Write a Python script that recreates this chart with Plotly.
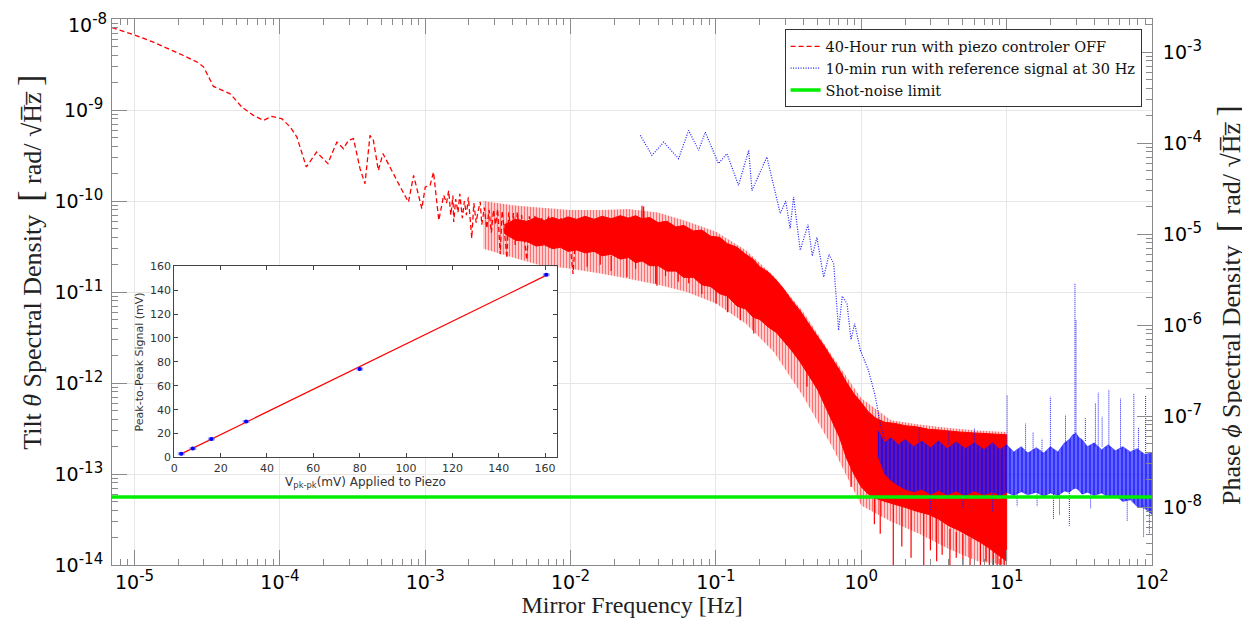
import math
import plotly.graph_objects as go

# ---------------- data ----------------
# 40-hour run (piezo controller OFF): low-frequency trace, Hz vs rad/sqrt(Hz)
red_f = [7.0e-6, 9.8e-6, 1.35e-5, 1.85e-5, 2.17e-5, 2.75e-5, 2.99e-5, 3.49e-5, 4.55e-5, 5.47e-5,
         6.58e-5, 7.71e-5, 8.81e-5, 1.03e-4, 1.18e-4, 1.31e-4, 1.52e-4, 1.79e-4, 2.14e-4, 2.28e-4,
         2.47e-4, 2.74e-4, 2.96e-4, 3.21e-4, 3.56e-4, 3.85e-4, 4.17e-4, 4.40e-4, 4.76e-4, 5.12e-4,
         5.58e-4, 6.04e-4, 6.73e-4, 7.67e-4, 8.32e-4, 9.0e-4, 9.48e-4, 1.0e-3, 1.08e-3, 1.14e-3,
         1.24e-3, 1.34e-3, 1.40e-3, 1.45e-3, 1.50e-3, 1.55e-3, 1.57e-3, 1.62e-3, 1.68e-3, 1.73e-3,
         1.80e-3, 1.86e-3, 1.92e-3, 1.98e-3, 2.05e-3, 2.09e-3, 2.16e-3, 2.24e-3, 2.30e-3, 2.39e-3,
         2.45e-3, 2.55e-3, 2.65e-3, 2.75e-3, 2.85e-3, 2.95e-3, 3.05e-3, 3.15e-3, 3.28e-3, 3.38e-3,
         3.50e-3, 3.65e-3, 3.75e-3, 3.90e-3, 4.05e-3, 4.16e-3, 4.30e-3, 4.45e-3, 4.60e-3, 4.75e-3,
         5.00e-3, 5.20e-3, 5.45e-3, 5.70e-3, 6.00e-3, 6.30e-3, 6.60e-3, 7.03e-3, 7.40e-3, 7.80e-3,
         8.20e-3, 8.60e-3, 9.0e-3, 9.5e-3, 1.04e-2, 1.1e-2]
red_y = [8.05e-9, 6.75e-9, 5.58e-9, 4.52e-9, 3.98e-9, 3.32e-9, 2.97e-9, 1.82e-9, 1.51e-9, 1.08e-9,
         8.75e-10, 7.71e-10, 8.53e-10, 8.04e-10, 6.5e-10, 5.05e-10, 2.37e-10, 3.45e-10, 2.58e-10, 3.32e-10,
         4.45e-10, 3.77e-10, 4.65e-10, 4.85e-10, 2.27e-10, 1.55e-10, 5.27e-10, 4.65e-10, 2.17e-10, 3.32e-10,
         2.58e-10, 2.0e-10, 1.43e-10, 9.75e-11, 1.91e-10, 1.11e-10, 8.24e-11, 1.43e-10, 1.49e-10, 2.08e-10,
         6.14e-11, 1.16e-10, 9.5e-11, 1.3e-10, 7.0e-11, 1.15e-10, 5.9e-11, 1.05e-10, 7.5e-11, 1.2e-10,
         6.5e-11, 1.0e-10, 7.0e-11, 1.1e-10, 6.0e-11, 3.9e-11, 9.5e-11, 5.8e-11, 7.5e-11, 9.8e-11,
         5.5e-11, 8.5e-11, 5.0e-11, 8.0e-11, 4.5e-11, 8.0e-11, 5.5e-11, 8.2e-11, 2.6e-11, 7.8e-11,
         4.8e-11, 2.35e-11, 7.5e-11, 4.5e-11, 7.4e-11, 3.3e-11, 7.6e-11, 4.2e-11, 7.0e-11, 4.6e-11,
         2.25e-11, 6.8e-11, 4.0e-11, 7.0e-11, 3.8e-11, 6.5e-11, 3.5e-11, 6.9e-11, 3.8e-11, 6.5e-11,
         3.6e-11, 6.5e-11, 3.5e-11, 6.4e-11, 1.58e-11, 6.0e-11]

# 40-hour run: dense part, solid core of the red band (upper / lower edge)
red_band_f = [3.5e-3, 4.2e-3, 5e-3, 5.8e-3, 6.6e-3, 7.5e-3, 8.5e-3, 9.6e-3, 1.1e-2, 1.26e-2,
              1.45e-2, 1.65e-2, 1.9e-2, 2.2e-2, 2.5e-2, 2.8e-2, 3.1e-2, 3.5e-2, 4.0e-2, 4.6e-2,
              5.3e-2, 6.0e-2, 7.0e-2, 8.0e-2, 9.2e-2, 0.106, 0.12, 0.14, 0.16, 0.18,
              0.2, 0.23, 0.26, 0.29, 0.33, 0.38, 0.43, 0.5, 0.56, 0.63,
              0.71, 0.79, 0.89, 1.0, 1.12, 1.26, 1.45, 1.7, 2.0, 2.4,
              2.9, 3.4, 4.0, 4.7, 5.5, 6.5, 7.5, 8.7, 10.0]
red_band_hi = [5.5e-11, 6.3e-11, 6.0e-11, 6.6e-11, 6.1e-11, 6.6e-11, 6.2e-11, 6.7e-11, 6.3e-11, 6.8e-11,
               6.3e-11, 6.8e-11, 6.4e-11, 6.9e-11, 6.5e-11, 6.9e-11, 6.4e-11, 6.6e-11, 5.8e-11, 6.0e-11,
               5.2e-11, 5.4e-11, 4.7e-11, 4.8e-11, 4.1e-11, 4.0e-11, 3.4e-11, 3.1e-11, 2.6e-11, 2.3e-11,
               1.9e-11, 1.65e-11, 1.35e-11, 1.1e-11, 8.2e-12, 6.2e-12, 4.6e-12, 3.3e-12, 2.5e-12, 1.85e-12,
               1.38e-12, 1.02e-12, 7.6e-13, 6.1e-13, 4.8e-13, 4.1e-13, 3.7e-13, 3.6e-13, 3.4e-13, 3.3e-13,
               3.1e-13, 3.05e-13, 2.95e-13, 2.9e-13, 2.85e-13, 2.8e-13, 2.75e-13, 2.75e-13, 2.7e-13]
red_band_lo = [4.4e-11, 3.7e-11, 3.6e-11, 3.2e-11, 3.3e-11, 3.0e-11, 3.1e-11, 2.8e-11, 2.9e-11, 2.7e-11,
               2.8e-11, 2.5e-11, 2.6e-11, 2.3e-11, 2.4e-11, 2.1e-11, 2.2e-11, 1.95e-11, 1.95e-11, 1.7e-11,
               1.7e-11, 1.45e-11, 1.45e-11, 1.2e-11, 1.15e-11, 9.6e-12, 9.0e-12, 7.0e-12, 6.5e-12, 5.3e-12,
               5.0e-12, 4.1e-12, 3.6e-12, 2.9e-12, 2.3e-12, 1.7e-12, 1.25e-12, 8.5e-13, 5.8e-13, 3.8e-13,
               2.5e-13, 1.5e-13, 1.0e-13, 7.2e-14, 6.0e-14, 5.4e-14, 5.0e-14, 4.6e-14, 4.3e-14, 3.9e-14,
               3.6e-14, 3.2e-14, 2.7e-14, 2.4e-14, 2.1e-14, 1.8e-14, 1.55e-14, 1.3e-14, 1.1e-14]

# 40-hour run: sparse outer fringe of the band (reach of the scattered dashes)
red_fringe_f = [2.5e-3, 4e-3, 6e-3, 1e-2, 1.6e-2, 2.5e-2, 4e-2, 6.3e-2, 0.1, 0.16,
                0.25, 0.4, 0.63, 1.0, 1.6, 2.5, 4.0, 6.3, 10.0]
red_fringe_hi = [1.0e-10, 9.0e-11, 8.5e-11, 8.0e-11, 8.0e-11, 8.2e-11, 7.5e-11, 6.0e-11, 4.6e-11, 2.9e-11,
                 1.5e-11, 6.0e-12, 2.0e-12, 6.8e-13, 3.9e-13, 3.5e-13, 3.2e-13, 3.0e-13, 2.9e-13]
red_fringe_lo = [3.0e-11, 2.4e-11, 2.0e-11, 1.8e-11, 1.6e-11, 1.4e-11, 1.2e-11, 1.0e-11, 7.5e-12, 4.5e-12,
                 2.2e-12, 7.0e-13, 2.0e-13, 4.5e-14, 3.0e-14, 2.2e-14, 1.5e-14, 1.1e-14, 1.0e-14]

# 40-hour run: isolated spikes sticking out of the band (frequency, from, to)
red_spk_f = [1.3e-2, 1.6e-2, 1.9e-2, 2.44e-2, 2.8e-2, 3.1e-2, 3.18e-2, 3.85e-2, 3.93e-2, 4.5e-2,
             5.5e-2, 6.5e-2, 8.0e-2, 0.1, 0.12, 0.147, 0.182, 0.423, 0.85, 1.23,
             1.35, 1.66, 1.9, 2.2, 2.69, 2.99, 3.3, 3.6, 4.07, 4.5,
             5.0, 5.6, 6.6, 7.2, 7.6, 8.1, 8.6, 9.1, 9.6]
red_spk_from = [2.8e-11, 2.6e-11, 2.5e-11, 2.4e-11, 2.2e-11, 6.3e-11, 6.3e-11, 2.1e-11, 2.1e-11, 1.9e-11,
                1.7e-11, 1.5e-11, 1.2e-11, 1.1e-11, 1.0e-11, 7.0e-12, 5.5e-12, 1.4e-12, 1.2e-13, 5.5e-14,
                5.2e-14, 4.7e-14, 4.5e-14, 4.2e-14, 3.7e-14, 3.6e-14, 3.3e-14, 3.0e-14, 2.5e-14, 2.3e-14,
                2.2e-14, 2.0e-14, 1.8e-14, 1.7e-14, 1.6e-14, 1.5e-14, 1.4e-14, 1.3e-14, 1.2e-14]
red_spk_to = [1.9e-11, 2.0e-11, 1.7e-11, 1.46e-11, 1.8e-11, 8.9e-11, 8.7e-11, 1.23e-11, 1.17e-11, 1.5e-11,
              1.3e-11, 1.25e-11, 9.5e-12, 7.5e-12, 6.0e-12, 4.9e-12, 3.5e-12, 9.1e-13, 7.2e-14, 2.8e-14,
              2.2e-14, 1.0e-14, 1.6e-14, 1.2e-14, 1.0e-14, 1.45e-14, 1.1e-14, 1.3e-14, 1.0e-14, 1.2e-14,
              1.0e-14, 1.0e-14, 1.0e-14, 1.1e-14, 1.0e-14, 1.0e-14, 1.0e-14, 1.0e-14, 1.0e-14]

# 10-min run with reference signal at 30 Hz
blue_f = [3.02e-2, 3.63e-2, 4.37e-2, 5.53e-2, 6.49e-2, 7.6e-2, 8.45e-2, 0.104, 0.119, 0.143,
          0.168, 0.177, 0.224, 0.277, 0.302, 0.324, 0.342, 0.38, 0.43, 0.46,
          0.495, 0.551, 0.60, 0.646, 0.698, 0.74, 0.798, 0.85, 0.90, 0.986,
          1.12, 1.25, 1.35, 1.5]
blue_y = [5.27e-10, 3.18e-10, 4.45e-10, 2.92e-10, 5.98e-10, 3.61e-10, 5.73e-10, 2.58e-10, 3.32e-10, 1.49e-10,
          3.61e-10, 1.31e-10, 3.05e-10, 7.28e-11, 1.0e-10, 5.0e-11, 1.11e-10, 2.88e-11, 5.5e-11, 2.5e-11,
          3.98e-11, 1.46e-11, 2.6e-11, 2.04e-11, 3.8e-12, 9.0e-12, 7.41e-12, 3.0e-12, 4.5e-12, 2.29e-12,
          1.38e-12, 7.08e-13, 3.55e-13, 2.0e-13]

blue_band_f = [1.3, 1.45, 1.6, 1.8, 2.0, 2.3, 2.6, 3.0, 3.4, 3.9,
               4.5, 5.2, 6.0, 7.0, 8.0, 9.0, 10.0, 11.2, 12.6, 14.0,
               16.0, 18.0, 20.0, 22.5, 25.0, 27.0, 28.5, 30.0, 31.5, 33.0,
               36.0, 40.0, 45.0, 50.0, 56.0, 63.0, 71.0, 79.0, 89.0, 100.0]
blue_band_hi = [3.0e-13, 2.2e-13, 2.5e-13, 2.1e-13, 2.4e-13, 2.0e-13, 2.3e-13, 1.95e-13, 2.3e-13, 1.9e-13,
                2.25e-13, 1.9e-13, 2.2e-13, 1.85e-13, 2.2e-13, 1.85e-13, 2.1e-13, 1.75e-13, 2.0e-13, 1.7e-13,
                1.95e-13, 1.7e-13, 2.0e-13, 1.75e-13, 2.2e-13, 2.4e-13, 2.7e-13, 2.8e-13, 2.5e-13, 2.4e-13,
                2.0e-13, 2.2e-13, 1.85e-13, 2.1e-13, 1.8e-13, 2.0e-13, 1.75e-13, 1.9e-13, 1.65e-13, 1.7e-13]
blue_band_lo = [1.6e-13, 1.0e-13, 8.5e-14, 7.5e-14, 6.8e-14, 6.4e-14, 6.8e-14, 6.0e-14, 6.6e-14, 5.9e-14,
                6.5e-14, 5.8e-14, 6.5e-14, 5.9e-14, 6.4e-14, 5.8e-14, 6.3e-14, 5.8e-14, 6.4e-14, 5.9e-14,
                6.3e-14, 5.7e-14, 6.2e-14, 5.8e-14, 6.5e-14, 6.3e-14, 6.8e-14, 7.0e-14, 6.6e-14, 6.0e-14,
                6.3e-14, 5.8e-14, 6.2e-14, 5.6e-14, 5.8e-14, 5.0e-14, 5.2e-14, 4.4e-14, 4.2e-14, 3.6e-14]

blue_spk_f = [2.5, 4.0, 6.0, 10.07, 13.5, 15.2, 17.5, 20.0, 25.4, 29.5,
              30.0, 34.8, 40.8, 42.7, 45.4, 50.5, 60.7, 75.0, 80.7, 90.4,
              3.0, 5.0, 8.0, 11.8, 16.2, 21.0, 23.1, 27.0, 37.8, 67.5,
              87.5, 96.0]
blue_spk_from = [2.2e-13, 2.1e-13, 2.05e-13, 2.0e-13, 1.85e-13, 1.85e-13, 1.8e-13, 1.8e-13, 2.1e-13, 2.7e-13,
                 2.8e-13, 2.3e-13, 2.0e-13, 2.0e-13, 2.0e-13, 1.95e-13, 1.9e-13, 1.8e-13, 1.8e-13, 1.7e-13,
                 6.5e-14, 6.2e-14, 6.3e-14, 6.3e-14, 6.3e-14, 6.0e-14, 6.1e-14, 6.5e-14, 6.1e-14, 5.5e-14,
                 4.5e-14, 4.2e-14]
blue_spk_to = [3.3e-13, 3.0e-13, 3.2e-13, 7.4e-13, 3.6e-13, 2.9e-13, 2.45e-13, 7.1e-13, 4.5e-13, 1.26e-11,
               5.0e-12, 4.1e-13, 6.0e-13, 7.9e-13, 4.3e-13, 8.5e-13, 6.8e-13, 7.6e-13, 3.3e-13, 7.4e-13,
               4.0e-14, 4.2e-14, 3.9e-14, 4.4e-14, 4.4e-14, 3.2e-14, 3.5e-14, 2.7e-14, 4.2e-14, 3.0e-14,
               2.0e-14, 2.2e-14]

# shot-noise limit
shot_f = [7.0e-6, 100.0]
shot_y = [5.6e-14, 5.6e-14]

# phase axis (right) versus tilt axis (left): log10 offset
PHASE_OFFSET_DECADES = 5.363

# inset: calibration
inset_x = [3, 8, 16, 31, 80, 160.5]
inset_y = [3, 7.5, 15.5, 30, 74, 153]
inset_xerr = [1.5, 1.5, 1.5, 1.5, 1.5, 1.5]
inset_yerr = [0.8, 0.8, 0.8, 0.8, 0.8, 0.8]
fit_x = [3, 160]
fit_y = [3.0, 152.0]

# axes
x_ticks = [1e-5, 1e-4, 1e-3, 1e-2, 1e-1, 1e0, 1e1, 1e2]
x_tick_exp = [-5, -4, -3, -2, -1, 0, 1, 2]
yl_ticks = [1e-14, 1e-13, 1e-12, 1e-11, 1e-10, 1e-9, 1e-8]
yl_tick_exp = [-14, -13, -12, -11, -10, -9, -8]
yr_ticks = [1e-8, 1e-7, 1e-6, 1e-5, 1e-4, 1e-3]
yr_tick_exp = [-8, -7, -6, -5, -4, -3]
inset_ticks = [0, 20, 40, 60, 80, 100, 120, 140, 160]

# ---------------- helpers ----------------
def minor_vals(lo_exp, hi_exp):
    out = []
    for e in range(lo_exp, hi_exp + 1):
        for m in range(2, 10):
            out.append(m * 10.0 ** e)
    return out

def segments(fs, a, b):
    xs, ys = [], []
    for f, y0, y1 in zip(fs, a, b):
        xs += [f, f, None]
        ys += [y0, y1, None]
    return xs, ys

def pow_label(e):
    return "10<sup><span style='font-size:15px'>%d</span></sup>" % e

AX = "#8a8a8a"
SERIF = "Liberation Serif"
SANS = "DejaVu Sans"
RED = "#ff0000"
BLUE = "#1a1aff"

fig = go.Figure()

# red fringe (scattered dashes) + dense core
fig.add_trace(go.Scatter(x=red_fringe_f + red_fringe_f[::-1], y=red_fringe_hi + red_fringe_lo[::-1],
                         fill="toself", mode="lines", line=dict(width=0),
                         fillpattern=dict(shape="|", fgcolor=RED, bgcolor="rgba(255,0,0,0.12)",
                                          size=3, solidity=0.45),
                         showlegend=False, hoverinfo="skip"))
fig.add_trace(go.Scatter(x=red_band_f + red_band_f[::-1], y=red_band_hi + red_band_lo[::-1],
                         fill="toself", fillcolor=RED, mode="lines", line=dict(color=RED, width=1),
                         showlegend=False, hoverinfo="skip"))
sx, sy = segments(red_spk_f, red_spk_from, red_spk_to)
fig.add_trace(go.Scatter(x=sx, y=sy, mode="lines", line=dict(color=RED, width=1.2),
                         showlegend=False, hoverinfo="skip"))
fig.add_trace(go.Scatter(x=red_f, y=red_y, mode="lines", name="40-Hour run with piezo controler OFF",
                         line=dict(color=RED, width=1.3, dash="5px,3px")))

# blue
fig.add_trace(go.Scatter(x=blue_band_f + blue_band_f[::-1], y=blue_band_hi + blue_band_lo[::-1],
                         fill="toself", mode="lines",
                         fillpattern=dict(shape="|", fgcolor="rgb(0,0,255)",
                                          bgcolor="rgba(30,30,255,0.68)", size=4, solidity=0.5),
                         line=dict(color="rgba(20,20,255,0.5)", width=1),
                         showlegend=False, hoverinfo="skip"))
bx, by = segments(blue_spk_f, blue_spk_from, blue_spk_to)
fig.add_trace(go.Scatter(x=bx, y=by, mode="lines", line=dict(color=BLUE, width=1, dash="1px,1px"),
                         showlegend=False, hoverinfo="skip"))
fig.add_trace(go.Scatter(x=blue_f, y=blue_y, mode="lines", name="10-min run with reference signal at 30 Hz",
                         line=dict(color=BLUE, width=1.2, dash="1px,1.5px")))

# green
fig.add_trace(go.Scatter(x=shot_f, y=shot_y, mode="lines", name="Shot-noise limit",
                         line=dict(color="#00ee00", width=3.5)))
# same line expressed on the phase axis (invisible; makes the right axis exist)
fig.add_trace(go.Scatter(x=shot_f, y=[v * 10 ** PHASE_OFFSET_DECADES for v in shot_y], yaxis="y3",
                         mode="lines", line=dict(color="rgba(0,0,0,0)", width=0),
                         showlegend=False, hoverinfo="skip"))

# inset
fig.add_trace(go.Scatter(x=fit_x, y=fit_y, xaxis="x2", yaxis="y2", mode="lines",
                         line=dict(color=RED, width=1.2), showlegend=False, hoverinfo="skip"))
fig.add_trace(go.Scatter(x=inset_x, y=inset_y, xaxis="x2", yaxis="y2", mode="markers",
                         marker=dict(color="#0000ff", size=4),
                         error_x=dict(type="data", array=inset_xerr, color="rgba(90,90,255,0.55)", thickness=3, width=0),
                         error_y=dict(type="data", array=inset_yerr, color="rgba(90,90,255,0.55)", thickness=1.5, width=2),
                         showlegend=False, hoverinfo="skip"))

tick_font = dict(family=SANS, size=19, color="black")
common = dict(showline=True, linecolor=AX, linewidth=1, ticks="inside", tickcolor=AX,
              ticklen=15, tickwidth=1, automargin=False, zeroline=False, ticklabeloverflow="allow")

BR = "<span style='font-size:34px'>%s</span>"
ytitle_left = "Tilt <i>θ</i> Spectral Density  " + BR % "[" + " rad/ √H\u0305z\u0305 " + BR % "]"
ytitle_right = "Phase <i>ϕ</i> Spectral Density  " + BR % "[" + " rad/ √H\u0305z\u0305 " + BR % "]"

# left labels: the topmost one sits at the very top edge, it is drawn as a label just inside the page
yl_text = [pow_label(e) for e in yl_tick_exp]
top_label = yl_text[-1]
yl_text[-1] = ""

# the page adds an 8px body margin, so the figure is 8px smaller on each side
fig.update_layout(
    width=1242, height=610,
    margin=dict(l=104, r=98, t=11, b=53),
    paper_bgcolor="white", plot_bgcolor="white",
    xaxis=dict(type="log", range=[math.log10(7e-6), 2], tickvals=x_ticks,
               ticktext=[pow_label(e) for e in x_tick_exp], ticklabelstandoff=0,
               mirror="ticks", showgrid=True, gridcolor="#e6e6e6", gridwidth=1,
               tickfont=tick_font,
               minor=dict(tickvals=minor_vals(-6, 1), ticks="inside", ticklen=6, tickcolor=AX, showgrid=False),
               title=dict(text="Mirror Frequency [Hz]", font=dict(family=SERIF, size=24, color="#222"), standoff=8),
               **common),
    yaxis=dict(type="log", range=[-14, -7.999], tickvals=yl_ticks,
               ticktext=yl_text, ticklabelstandoff=4,
               showgrid=True, gridcolor="#e6e6e6", gridwidth=1, tickfont=tick_font,
               minor=dict(tickvals=minor_vals(-14, -9), ticks="inside", ticklen=6, tickcolor=AX, showgrid=False),
               **common),
    yaxis3=dict(type="log", overlaying="y", side="right", anchor="x", range=[-8.637, -2.636],
                tickvals=yr_ticks, ticktext=[pow_label(e) for e in yr_tick_exp], ticklabelstandoff=6,
                showgrid=False, tickfont=tick_font,
                minor=dict(tickvals=minor_vals(-9, -3), ticks="inside", ticklen=6, tickcolor=AX, showgrid=False),
                **common),
    xaxis2=dict(domain=[0.0599, 0.4276], anchor="y2", range=[0, 165], tickvals=inset_ticks,
                showline=True, mirror="ticks", linecolor="#444", ticks="inside", ticklen=4, tickcolor="#444",
                showgrid=False, zeroline=False, tickfont=dict(family=SANS, size=11, color="#333"),
                title=dict(text="V<sub>pk-pk</sub>(mV) Applied to Piezo", font=dict(family=SANS, size=12, color="#333"),
                           standoff=2),
                automargin=False),
    yaxis2=dict(domain=[0.197, 0.547], anchor="x2", range=[0, 160], tickvals=inset_ticks,
                showline=True, mirror="ticks", linecolor="#444", ticks="inside", ticklen=4, tickcolor="#444",
                showgrid=False, zeroline=False, tickfont=dict(family=SANS, size=11, color="#333"),
                title=dict(text="Peak-to-Peak Signal (mV)", font=dict(family=SANS, size=11, color="#333"),
                           standoff=4),
                automargin=False),
    legend=dict(x=0.99, y=0.981, xanchor="right", yanchor="top", bgcolor="white",
                bordercolor="#333", borderwidth=1, font=dict(family="DejaVu Serif", size=14.5, color="#111"),
                itemwidth=30, tracegroupgap=0),
    annotations=[
        dict(text=ytitle_left, xref="paper", yref="paper", x=-0.079, y=0.555, textangle=-90,
             showarrow=False, xanchor="center", yanchor="middle", font=dict(family=SERIF, size=26, color="#222")),
        dict(text=ytitle_right, xref="paper", yref="paper", x=1.073, y=0.476, textangle=-90,
             showarrow=False, xanchor="center", yanchor="middle", font=dict(family=SERIF, size=26, color="#222")),
        dict(text=top_label, xref="paper", yref="paper", x=0, y=1, xanchor="right", yanchor="top",
             xshift=-4, yshift=10, showarrow=False, borderpad=0, font=tick_font),
    ],
    shapes=[dict(type="rect", xref="x2 domain", yref="y2 domain", x0=-0.105, x1=1.01, y0=-0.2, y1=1.04,
                 fillcolor="white", line=dict(width=0), layer="below")],
)

fig.write_html("out.html")
